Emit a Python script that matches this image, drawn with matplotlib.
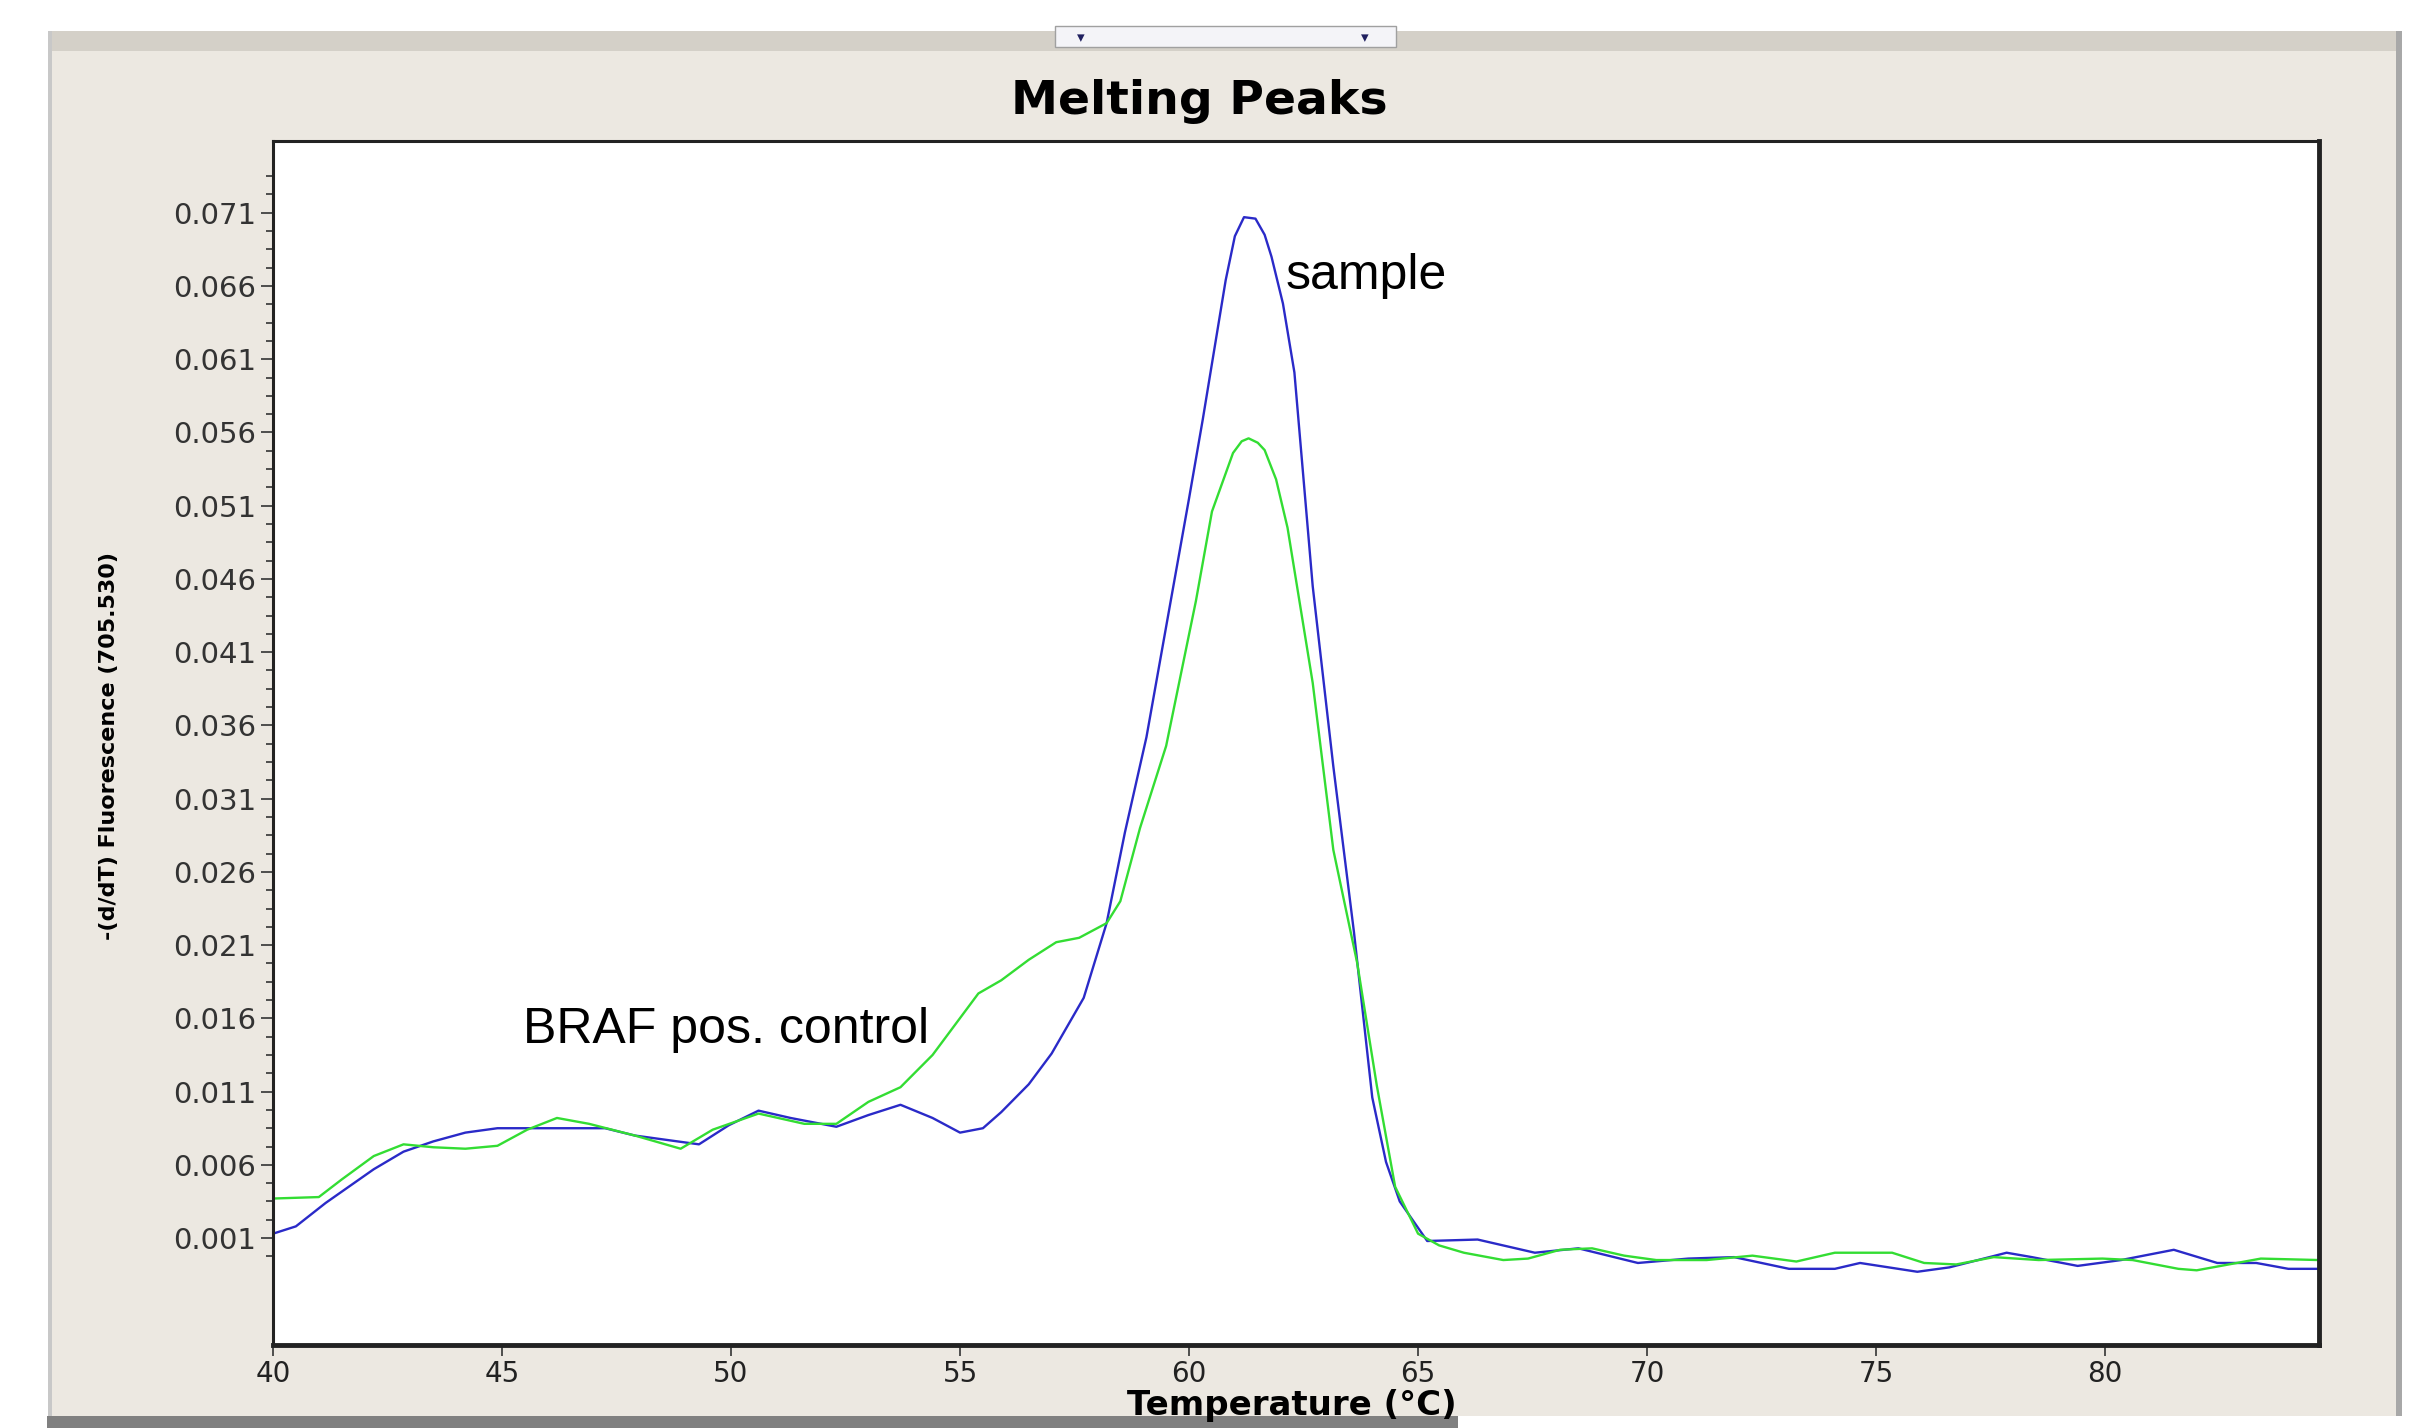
import matplotlib
matplotlib.use("Agg")
import matplotlib.pyplot as plt
from matplotlib.patches import Rectangle
from matplotlib.ticker import FixedLocator, FixedFormatter

# Datos
temp_sample = [40.0, 40.5, 41.15, 42.2, 42.85, 43.5, 44.2, 44.9, 46.2, 47.25, 47.9, 48.6, 49.3,
               49.95, 50.6, 51.3, 52.3, 53.0, 53.7, 54.4, 55.0, 55.5, 55.9, 56.5, 57.0, 57.7,
               58.2, 58.6, 59.07, 59.6, 60.0, 60.3, 60.8, 61.0, 61.2, 61.45, 61.65, 61.8, 62.05,
               62.3, 62.7, 63.15, 63.6, 64.0, 64.3, 64.6, 65.2, 66.3, 67.55, 68.5, 69.8, 70.9,
               71.9, 73.1, 74.1, 74.65, 75.9, 76.6, 77.85, 78.4, 79.4, 80.35, 81.5, 82.45, 83.3,
               84.0, 84.67]
val_sample = [0.0013, 0.0018, 0.0034, 0.0057, 0.0069, 0.0076, 0.0082, 0.0085, 0.0085, 0.0085,
              0.0080, 0.0077, 0.0074, 0.0087, 0.0097, 0.0092, 0.0086, 0.0094, 0.0101, 0.0092,
              0.0082, 0.0085, 0.0096, 0.0115, 0.0136, 0.0174, 0.0225, 0.0287, 0.0352, 0.0445,
              0.0515, 0.0569, 0.0664, 0.0694, 0.0707, 0.0706, 0.0695, 0.0680, 0.0648, 0.0601,
              0.0455, 0.0332, 0.0219, 0.0106, 0.0062, 0.0035, 0.0008, 0.0009, 0.0000, 0.0003,
              -0.0007, -0.0004, -0.0003, -0.0011, -0.0011, -0.0007, -0.0013, -0.0010, 0.0000,
              -0.0003, -0.0009, -0.0005, 0.0002, -0.0007, -0.0007, -0.0011, -0.0011]

temp_control = [40.0, 41.0, 41.5, 42.2, 42.85, 43.5, 44.2, 44.9, 45.55, 46.2, 46.9, 47.9, 48.9,
                49.6, 50.6, 51.6, 52.3, 53.0, 53.7, 54.4, 54.9, 55.4, 55.9, 56.5, 57.1, 57.6,
                58.2, 58.5, 58.93, 59.5, 60.15, 60.5, 60.96, 61.15, 61.3, 61.5, 61.65, 61.9,
                62.15, 62.7, 63.15, 63.67, 64.1, 64.5, 65.0, 65.46, 66.0, 66.86, 67.4, 68.1, 68.8,
                69.5, 70.2, 71.3, 72.3, 73.26, 74.1, 75.35, 76.05, 76.75, 77.57, 78.55, 79.94,
                80.6, 81.6, 82.0, 82.7, 83.4, 84.67]
val_control = [0.0037, 0.0038, 0.0050, 0.0066, 0.0074, 0.0072, 0.0071, 0.0073, 0.0084, 0.0092,
               0.0088, 0.0080, 0.0071, 0.0084, 0.0095, 0.0088, 0.0088, 0.0103, 0.0113, 0.0135,
               0.0156, 0.0177, 0.0186, 0.0200, 0.0212, 0.0215, 0.0225, 0.0240, 0.0290, 0.0346,
               0.0445, 0.0506, 0.0546, 0.0554, 0.0556, 0.0553, 0.0548, 0.0528, 0.0495, 0.0389,
               0.0275, 0.0198, 0.0114, 0.0045, 0.0013, 0.0005, 0.0000, -0.0005, -0.0004, 0.0002,
               0.0003, -0.0002, -0.0005, -0.0005, -0.0002, -0.0006, 0.0000, 0.0000, -0.0007,
               -0.0008, -0.0003, -0.0005, -0.0004, -0.0005, -0.0011, -0.0012, -0.0008, -0.0004,
               -0.0005]

x_ticks = [40, 45, 50, 55, 60, 65, 70, 75, 80]
y_ticks = [0.071, 0.066, 0.061, 0.056, 0.051, 0.046, 0.041, 0.036, 0.031, 0.026, 0.021,
           0.016, 0.011, 0.006, 0.001]
y_labels = ["0.071", "0.066", "0.061", "0.056", "0.051", "0.046", "0.041", "0.036", "0.031",
            "0.026", "0.021", "0.016", "0.011", "0.006", "0.001"]

panel = "#ECE8E1"

fig = plt.figure(figsize=(24.32, 14.28), dpi=100, facecolor="white")

# Marco de la ventana
fig.patches.append(Rectangle((51 / 2432, 1 - 1416 / 1428), 2350 / 2432, 1365 / 1428,
                             transform=fig.transFigure, facecolor=panel, edgecolor="none", zorder=0))
fig.patches.append(Rectangle((51 / 2432, 1 - 51 / 1428), 2350 / 2432, 20 / 1428,
                             transform=fig.transFigure, facecolor="#D4D0C8", edgecolor="none", zorder=1))
fig.patches.append(Rectangle((1055 / 2432, 1 - 47 / 1428), 341 / 2432, 21 / 1428,
                             transform=fig.transFigure, facecolor="#F4F4F8", edgecolor="#A0A0A0",
                             lw=1, zorder=2))
fig.patches.append(Rectangle((47 / 2432, 0), 1411 / 2432, 12 / 1428,
                             transform=fig.transFigure, facecolor="#808080", edgecolor="none", zorder=1))
fig.patches.append(Rectangle((2396 / 2432, 1 - 1416 / 1428), 6 / 2432, 1385 / 1428,
                             transform=fig.transFigure, facecolor="#A8A8A8", edgecolor="none", zorder=1))
fig.patches.append(Rectangle((48 / 2432, 1 - 1416 / 1428), 4 / 2432, 1385 / 1428,
                             transform=fig.transFigure, facecolor="#C8C8C8", edgecolor="none", zorder=1))
for xa in (1081, 1365):
    fig.text(xa / 2432, 1 - 38 / 1428, "▾", fontsize=11, color="#202060",
             ha="center", va="center", zorder=3)

ax = fig.add_axes([273 / 2432, 1 - 1345 / 1428, (2319 - 273) / 2432, (1345 - 141) / 1428])
ax.set_zorder(5)
ax.set_facecolor("white")

ax.plot(temp_sample, val_sample, color="#2A2AC8", lw=1.7)
ax.plot(temp_control, val_control, color="#33DD33", lw=1.7)

ax.set_xlim(40, 84.67)
ax.set_ylim(-0.0063, 0.0759)

ax.xaxis.set_major_locator(FixedLocator(x_ticks))
ax.yaxis.set_major_locator(FixedLocator(y_ticks))
ax.yaxis.set_major_formatter(FixedFormatter(y_labels))
ax.yaxis.set_minor_locator(FixedLocator([0.001 + k * 0.00125 for k in range(-1, 59) if k % 4 != 0]))

ax.tick_params(axis="y", which="major", length=9, width=1.2, color="#333333",
               labelsize=21, labelcolor="#333333", pad=3)
ax.tick_params(axis="y", which="minor", length=5, width=1.2, color="#333333")
ax.tick_params(axis="x", which="major", length=8, width=1.2, color="#333333",
               labelsize=20, labelcolor="#222222", pad=3)

for s in ax.spines.values():
    s.set_linewidth(2.2)
    s.set_color("#222222")
ax.spines["right"].set_linewidth(3.5)
ax.spines["bottom"].set_linewidth(3.5)

ax.text(62.1, 0.0658, "sample", fontsize=36, family="Liberation Sans", va="baseline", ha="left")
ax.text(45.45, 0.0143, "BRAF pos. control", fontsize=36, family="Liberation Sans",
        va="baseline", ha="left")

fig.text(0.493, 1 - 101 / 1428, "Melting Peaks", fontsize=34, fontweight="bold",
         ha="center", va="center", zorder=6)
fig.text(0.531, 1 - 1405 / 1428, "Temperature (°C)", fontsize=24.5, fontweight="bold",
         ha="center", va="center", zorder=6)
fig.text(109 / 2432, 1 - 746 / 1428, "-(d/dT) Fluorescence (705.530)", fontsize=16,
         fontweight="bold", rotation=90, ha="center", va="center", zorder=6)

fig.savefig("out.png", dpi=100, facecolor=fig.get_facecolor())
